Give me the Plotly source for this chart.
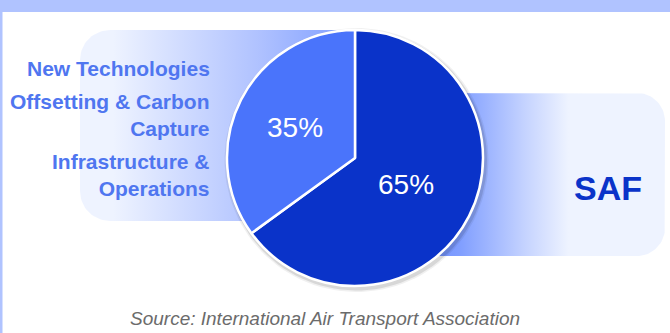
import numpy as np
import plotly.graph_objects as go

# ---- data ----
slice_names = ["SAF", "Other measures"]
slice_values = [65, 35]
left_labels = ["New Technologies", "Offsetting & Carbon<br>Capture", "Infrastructure &<br>Operations"]
right_label = "SAF"
source_text = "Source: International Air Transport Association"

W, H = 670, 333
DARK = "#0a33c9"
LIGHT = "#4a74fb"
LABEL_C = "#4f76f0"

def rounded_rect(x0, x1, y0, y1, rl, rr, n=20):
    xs, ys = [], []
    for t in np.linspace(np.pi, 1.5 * np.pi, n):
        xs.append(x0 + rl + rl * np.cos(t)); ys.append(y0 + rl + rl * np.sin(t))
    for t in np.linspace(1.5 * np.pi, 2 * np.pi, n):
        xs.append(x1 - rr + rr * np.cos(t)); ys.append(y0 + rr + rr * np.sin(t))
    for t in np.linspace(0, 0.5 * np.pi, n):
        xs.append(x1 - rr + rr * np.cos(t)); ys.append(y1 - rr + rr * np.sin(t))
    for t in np.linspace(0.5 * np.pi, np.pi, n):
        xs.append(x0 + rl + rl * np.cos(t)); ys.append(y1 - rl + rl * np.sin(t))
    xs.append(xs[0]); ys.append(ys[0])
    return xs, ys

fig = go.Figure()

# left gradient panel
lx, ly = rounded_rect(80, 354, 30, 221, 30, 0)
fig.add_trace(go.Scatter(
    x=lx, y=ly, mode="lines", fill="toself", line=dict(width=0),
    fillgradient=dict(type="horizontal", start=80, stop=354,
                      colorscale=[[0, "#eef3ff"], [0.12, "#eef3ff"], [0.65, "#b0c2ff"], [1, "#7f9eff"]]),
    hoverinfo="skip", showlegend=False))

# right gradient panel
rx, ry = rounded_rect(354, 665, 93, 256, 0, 28)
fig.add_trace(go.Scatter(
    x=rx, y=ry, mode="lines", fill="toself", line=dict(width=0),
    fillgradient=dict(type="horizontal", start=354, stop=665,
                      colorscale=[[0, "#4a70ff"], [0.34, "#809eff"], [0.55, "#c5d3ff"], [0.69, "#eef3ff"], [1, "#eef3ff"]]),
    hoverinfo="skip", showlegend=False))

# pie shadow
cx, cy, R = 355, 158, 128
for dr, a in [(4, 0.06), (2.5, 0.10)]:
    t = np.linspace(0, 2 * np.pi, 120)
    fig.add_trace(go.Scatter(
        x=cx + 1.5 + (R + dr) * np.cos(t), y=cy + 2 + (R + dr) * np.sin(t),
        mode="lines", fill="toself", line=dict(width=0),
        fillcolor=f"rgba(0,0,0,{a})", hoverinfo="skip", showlegend=False))

fig.add_trace(go.Pie(
    labels=slice_names, values=slice_values, sort=False, direction="clockwise", rotation=0,
    marker=dict(colors=[DARK, LIGHT], line=dict(color="white", width=2.5)),
    textinfo="none",
    domain=dict(x=[(cx - R) / W, (cx + R) / W], y=[(H - cy - R) / H, (H - cy + R) / H]),
    showlegend=False, hoverinfo="skip"))

# percent labels placed along each slice's mid-angle
total = sum(slice_values)
start = 0.0
label_r = [0.45, 0.53]
for v, fr in zip(slice_values, label_r):
    mid = start + v / total * 180.0  # degrees clockwise from top
    ang = np.deg2rad(mid)
    fig.add_annotation(x=cx + fr * R * np.sin(ang), y=cy - fr * R * np.cos(ang), xref="x", yref="y",
                       text=f"{round(v / total * 100)}%", showarrow=False,
                       font=dict(family="Liberation Sans, Arial", size=28, color="white"))
    start += v / total * 360.0

# left labels
label_y = [68, 115, 175]
for txt, y in zip(left_labels, label_y):
    fig.add_annotation(x=212, y=y, xref="x", yref="y", text=f"<b>{txt}</b>", showarrow=False,
                       xanchor="right", yanchor="middle", align="right",
                       font=dict(family="Liberation Sans, Arial", size=21, color=LABEL_C))

fig.add_annotation(x=608, y=188, xref="x", yref="y", text=f"<b>{right_label}</b>", showarrow=False,
                   xanchor="center", yanchor="middle",
                   font=dict(family="Liberation Sans, Arial", size=34, color=DARK))

fig.add_annotation(x=325, y=318, xref="x", yref="y", text=f"<i>{source_text}</i>", showarrow=False,
                   xanchor="center", yanchor="middle",
                   font=dict(family="Liberation Sans, Arial", size=19, color="#6b6b6b"))

# frame bands
fig.add_shape(type="rect", xref="x", yref="y", x0=0, x1=W, y0=0, y1=12, fillcolor="#b0c3ff", line_width=0, layer="below")
fig.add_shape(type="rect", xref="x", yref="y", x0=0, x1=2.5, y0=0, y1=H, fillcolor="#b0c3ff", line_width=0, layer="below")

fig.update_layout(
    width=W, height=H, margin=dict(l=0, r=0, t=0, b=0),
    paper_bgcolor="white", plot_bgcolor="white",
    xaxis=dict(range=[0, W], visible=False, fixedrange=True),
    yaxis=dict(range=[H, 0], visible=False, fixedrange=True),
)

fig.write_html("out.html", config={"displayModeBar": False},
               post_script="document.body.style.margin='0';document.body.style.overflow='hidden';")
